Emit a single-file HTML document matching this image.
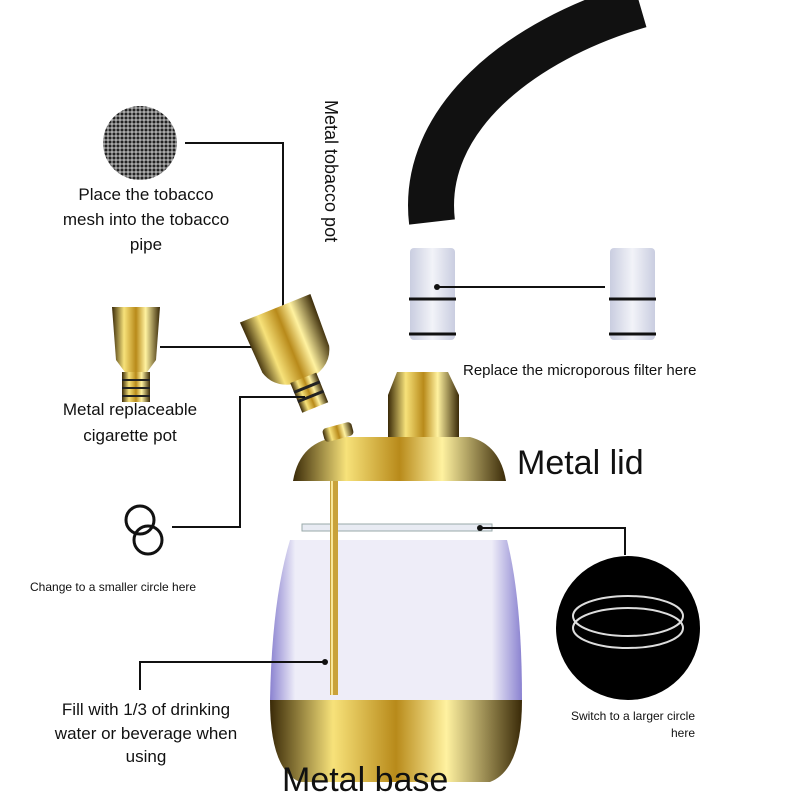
<!DOCTYPE html>
<html><head><meta charset="utf-8"><style>
html,body{margin:0;padding:0;background:#fff}
svg{display:block}
text{font-family:"Liberation Sans","DejaVu Sans",sans-serif;fill:#111}
</style></head><body>
<svg width="800" height="800" viewBox="0 0 800 800" xmlns="http://www.w3.org/2000/svg">
<defs>
<linearGradient id="gold" x1="0" x2="1" y1="0" y2="0">
<stop offset="0" stop-color="#3a2a08"/><stop offset="0.25" stop-color="#f7e27a"/><stop offset="0.5" stop-color="#b88a1a"/><stop offset="0.7" stop-color="#fff2a0"/><stop offset="1" stop-color="#3a2a08"/>
</linearGradient>
<linearGradient id="glass" x1="0" x2="1"><stop offset="0" stop-color="#8a82d0"/><stop offset="0.1" stop-color="#eeedf8"/><stop offset="0.88" stop-color="#eeedf8"/><stop offset="1" stop-color="#8a82d0"/></linearGradient>
<linearGradient id="filt" x1="0" x2="1"><stop offset="0" stop-color="#c9cde0"/><stop offset="0.5" stop-color="#f2f3f8"/><stop offset="1" stop-color="#c9cde0"/></linearGradient>
<pattern id="mesh" width="4" height="4" patternUnits="userSpaceOnUse"><rect width="4" height="4" fill="#aaa"/><circle cx="2" cy="2" r="1.5" fill="#222"/></pattern>
</defs>
<!-- pipe -->
<path d="M432 222 C 420 120, 520 40, 640 5" stroke="#111" stroke-width="46" fill="none"/>
<!-- mesh -->
<circle cx="140" cy="143" r="37" fill="url(#mesh)"/>
<polyline points="185,143 283,143 283,310" fill="none" stroke="#111" stroke-width="2"/>
<circle cx="283" cy="310" r="3" fill="#111"/>
<text x="146" y="200" font-size="17" text-anchor="middle">Place the tobacco</text>
<text x="146" y="225" font-size="17" text-anchor="middle">mesh into the tobacco</text>
<text x="146" y="250" font-size="17" text-anchor="middle">pipe</text>
<text font-size="18" transform="translate(325,100) rotate(90)">Metal tobacco pot</text>
<!-- cigarette pot -->
<path d="M112 307 L160 307 L156 360 L145 375 L127 375 L116 360 Z" fill="url(#gold)"/>
<rect x="122" y="372" width="28" height="30" fill="url(#gold)"/>
<g stroke="#222" stroke-width="2"><line x1="122" y1="380" x2="150" y2="380"/><line x1="122" y1="388" x2="150" y2="388"/><line x1="122" y1="396" x2="150" y2="396"/></g>
<line x1="160" y1="347" x2="312" y2="347" stroke="#111" stroke-width="2"/>
<circle cx="312" cy="347" r="3" fill="#111"/>
<text x="130" y="415" font-size="17" text-anchor="middle">Metal replaceable</text>
<text x="130" y="441" font-size="17" text-anchor="middle">cigarette pot</text>
<!-- tilted tobacco pot -->
<g transform="translate(292,350) rotate(-22)">
<path d="M-38 -45 L38 -45 L36 10 Q30 32 0 34 Q-30 32 -36 10 Z" fill="url(#gold)"/>
<rect x="-14" y="30" width="28" height="32" fill="url(#gold)"/>
<g stroke="#222" stroke-width="3"><line x1="-14" y1="40" x2="14" y2="40"/><line x1="-14" y1="50" x2="14" y2="50"/></g>
</g>
<polyline points="305,397 240,397 240,527 172,527" fill="none" stroke="#111" stroke-width="2"/>
<circle cx="140" cy="520" r="14" fill="none" stroke="#111" stroke-width="3"/>
<circle cx="148" cy="540" r="14" fill="none" stroke="#111" stroke-width="3"/>
<text x="30" y="591" font-size="12">Change to a smaller circle here</text>
<!-- filters -->
<rect x="410" y="248" width="45" height="92" rx="4" fill="url(#filt)"/>
<rect x="610" y="248" width="45" height="92" rx="4" fill="url(#filt)"/>
<g stroke="#111" stroke-width="3"><line x1="409" y1="299" x2="456" y2="299"/><line x1="409" y1="334" x2="456" y2="334"/><line x1="609" y1="299" x2="656" y2="299"/><line x1="609" y1="334" x2="656" y2="334"/></g>
<line x1="437" y1="287" x2="605" y2="287" stroke="#111" stroke-width="2"/>
<circle cx="437" cy="287" r="3" fill="#111"/>
<text x="463" y="375" font-size="15">Replace the microporous filter here</text>
<!-- lid -->
<path d="M397 372 L448 372 L459 395 L459 440 L388 440 L388 395 Z" fill="url(#gold)"/>
<path d="M293 481 Q300 440 340 437 L470 437 Q500 445 506 481 Z" fill="url(#gold)"/>
<rect x="323" y="425" width="30" height="14" rx="4" fill="url(#gold)" transform="rotate(-15 338 432)"/>
<text x="517" y="474" font-size="34">Metal lid</text>
<!-- glass -->
<path d="M290 540 L507 540 Q522 600 522 700 L270 700 Q272 600 290 540 Z" fill="url(#glass)"/>
<path d="M270 700 L522 700 Q522 770 490 782 L300 782 Q270 770 270 700 Z" fill="url(#gold)"/>
<rect x="302" y="524" width="190" height="7" fill="#e8ebf3" stroke="#9aa" stroke-width="1"/>
<rect x="330" y="481" width="8" height="214" fill="#c9a23a"/>
<line x1="332" y1="481" x2="332" y2="695" stroke="#f8e79a" stroke-width="2"/>
<polyline points="480,528 625,528 625,555" fill="none" stroke="#111" stroke-width="2"/>
<circle cx="480" cy="528" r="3" fill="#111"/>
<!-- larger circle -->
<circle cx="628" cy="628" r="72" fill="#000"/>
<ellipse cx="628" cy="616" rx="55" ry="20" fill="none" stroke="#ddd" stroke-width="2"/>
<ellipse cx="628" cy="628" rx="55" ry="20" fill="none" stroke="#ddd" stroke-width="2"/>
<text x="695" y="720" font-size="12" text-anchor="end">Switch to a larger circle</text>
<text x="695" y="737" font-size="12" text-anchor="end">here</text>
<polyline points="140,690 140,662 325,662" fill="none" stroke="#111" stroke-width="2"/>
<circle cx="325" cy="662" r="3" fill="#111"/>
<text x="146" y="715" font-size="17" text-anchor="middle">Fill with 1/3 of drinking</text>
<text x="146" y="739" font-size="17" text-anchor="middle">water or beverage when</text>
<text x="146" y="762" font-size="17" text-anchor="middle">using</text>
<text x="282" y="791" font-size="34">Metal base</text>
</svg>
</body></html>
